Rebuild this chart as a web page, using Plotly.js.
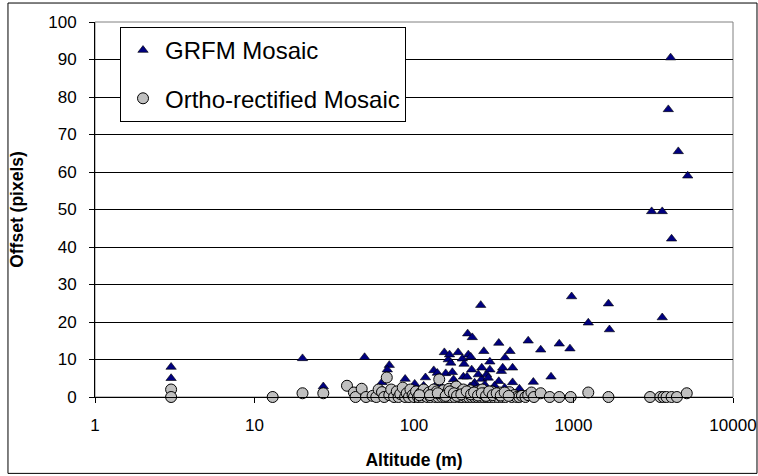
<!DOCTYPE html>
<html>
<head>
<meta charset="utf-8">
<script src="https://cdn.plot.ly/plotly-3.0.1.min.js"></script>
<style>html,body{margin:0;padding:0;background:#fff;}#chart{width:758px;height:476px;}</style>
</head>
<body>
<div id="chart"></div>
<script>
// GRFM Mosaic (triangles)
const grfmAltitude = [3,3,13,20,27,49,63,70,68,88,101,118,133,140,141,155,158,164,167,170,174,177,189,201,204,206,215,217,219,227,230,232,240,253,262,266,266,274,278,285,292,299,299,340,340,353,360,372,400,415,415,458,520,560,623,723,814,950,973,1238,1656,1680,3090,3600,3600,3930,4064,4120,4540,5200,
  75,90,110,125,150,180,195,210,225,245,260,310,330,370,115,145,185,236,320];
const grfmOffset = [8,5,0.3,10.3,2.8,10.6,3.9,8.5,7.3,4.8,3.5,5.2,7.1,6.4,3.8,11.9,6.3,10,11.3,9.1,6.6,4.7,11.9,10.2,5.4,8.8,5.4,16.9,11.3,10.7,7.3,15.9,3.8,6,24.5,7.8,4.8,12.2,3.3,6,5.1,9.4,7.3,14.4,4.2,6.9,7.8,10.5,12.2,7.8,3.9,2.2,15,4,12.6,5.4,14.2,12.9,26.8,19.8,24.9,18,49.5,49.5,21.2,76.7,90.5,42.2,65.5,59,
  1,1.5,2,1.5,2.5,1.8,2.6,1.2,2.8,1.5,2.2,2,1.5,2.5,3,3.2,3.5,3.3,3];

// Ortho-rectified Mosaic (circles)
const orthoAltitude = [3,3,13,20,27,38,42,43,47,50,55,58,60,63,65,67.5,70,72,75,78,80,82,85,88,90,93,95,98,100,103,106,110,112,115,118,121,124,127,130,133,136,139,142,144,147,150,153,156,160,163,166,170,173,176,180,184,188,192,196,200,204,208,212,216,220,225,230,235,240,245,250,256,262,268,274,280,286,292,300,308,316,325,335,345,355,365,375,385,397,410,425,440,457,475,500,520,545,565,623,710,814,960,1238,1656,3020,3500,3670,3830,4120,4450,5130,
  108,126,141,158,168,178,186,198,214,228,238,252,266,283,296,312,330,350,370,392];
const orthoOffset = [2,0,0,1,1,3,1.2,0,2.2,0,0.3,0,2,1.3,0,5.2,0.5,2,0,1.5,0,0.8,2.5,0,1,0,2,0.5,0,1.5,0,1,0,2,0.3,0,1.2,0,0.8,2,0,1.5,0,4.7,0.5,0,1.8,0,1,0,2.2,0,0.8,1.5,0,2.8,0.5,0,1.3,0,2,0.3,0,1,0,1.8,0,0.5,0,1.5,0,0.8,0,2,0,1,0,0.5,0,1.5,0,0.8,0,1.2,0,0.5,0,1,1.3,0,0.5,0,0,0.3,0,0.5,1.2,0,1,0,0,0,1.2,0,0,0,0,0,0,0,1,
  0.5,0.5,1,0.3,1.5,1,0.3,0.7,1.5,0.7,1.2,0.4,1,0.3,1.5,0.5,1,0.4,1.2,0.3];

const xTickVals = [1,10,100,1000,10000];
const xTickText = ["1","10","100","1000","10000"];
const yTickVals = [0,10,20,30,40,50,60,70,80,90,100];

const FONT = "Arial, 'Liberation Sans', sans-serif";

const traces = [
  {
    type: "scatter", mode: "markers", name: "GRFM Mosaic",
    x: grfmAltitude, y: grfmOffset, cliponaxis: false,
    legendgroup: "a",
    marker: {symbol: "triangle-up", size: 9, color: "#000080", line: {color: "#000000", width: 0.6}}
  },
  {
    type: "scatter", mode: "markers", name: "Ortho-rectified Mosaic",
    x: orthoAltitude, y: orthoOffset, cliponaxis: false,
    legendgroup: "b",
    marker: {symbol: "circle", size: 11, color: "#C0C0C0", line: {color: "#000000", width: 1}}
  }
];

const layout = {
  width: 758, height: 476,
  margin: {l: 95, r: 25, t: 22, b: 78.5, pad: 0},
  paper_bgcolor: "#ffffff", plot_bgcolor: "#ffffff",
  font: {family: FONT, color: "#000000", size: 17},
  showlegend: true,
  legend: {
    x: 0.0392, y: 0.9867, xanchor: "left", yanchor: "top",
    bgcolor: "#ffffff", bordercolor: "#000000", borderwidth: 1,
    font: {family: FONT, size: 24, color: "#000000"},
    traceorder: "grouped", tracegroupgap: 14,
    itemwidth: 34
  },
  xaxis: {
    type: "log", range: [0, 4],
    tickvals: xTickVals, ticktext: xTickText,
    ticks: "outside", ticklen: 5, tickcolor: "#000", tickwidth: 1,
    showline: true, linecolor: "#000", linewidth: 1,
    showgrid: false, zeroline: false,
    tickfont: {family: FONT, size: 17},
    ticklabelstandoff: 8,
    title: {text: "<b>Altitude (m)</b>", font: {family: FONT, size: 17.5}, standoff: 19}
  },
  yaxis: {
    range: [0, 100], tickvals: yTickVals,
    ticks: "outside", ticklen: 5, tickcolor: "#000", tickwidth: 1,
    showline: true, linecolor: "#000", linewidth: 1,
    showgrid: true, gridcolor: "#000", gridwidth: 1, zeroline: false,
    tickfont: {family: FONT, size: 17},
    ticklabelstandoff: 9,
    title: {text: "<b>Offset (pixels)</b>", font: {family: FONT, size: 17.5}, standoff: 20}
  },
  shapes: [
    {type: "rect", xref: "paper", yref: "paper", x0: 0, x1: 1, y0: 0, y1: 1,
     line: {color: "#808080", width: 1}, layer: "between"},
    {type: "rect", xref: "paper", yref: "paper", x0: -0.1364, x1: 1.0376, y0: -0.2037, y1: 1.0506,
     line: {color: "#000000", width: 1}, layer: "below"}
  ]
};

Plotly.newPlot("chart", traces, layout, {displayModeBar: false, staticPlot: true});
</script>
</body>
</html>
